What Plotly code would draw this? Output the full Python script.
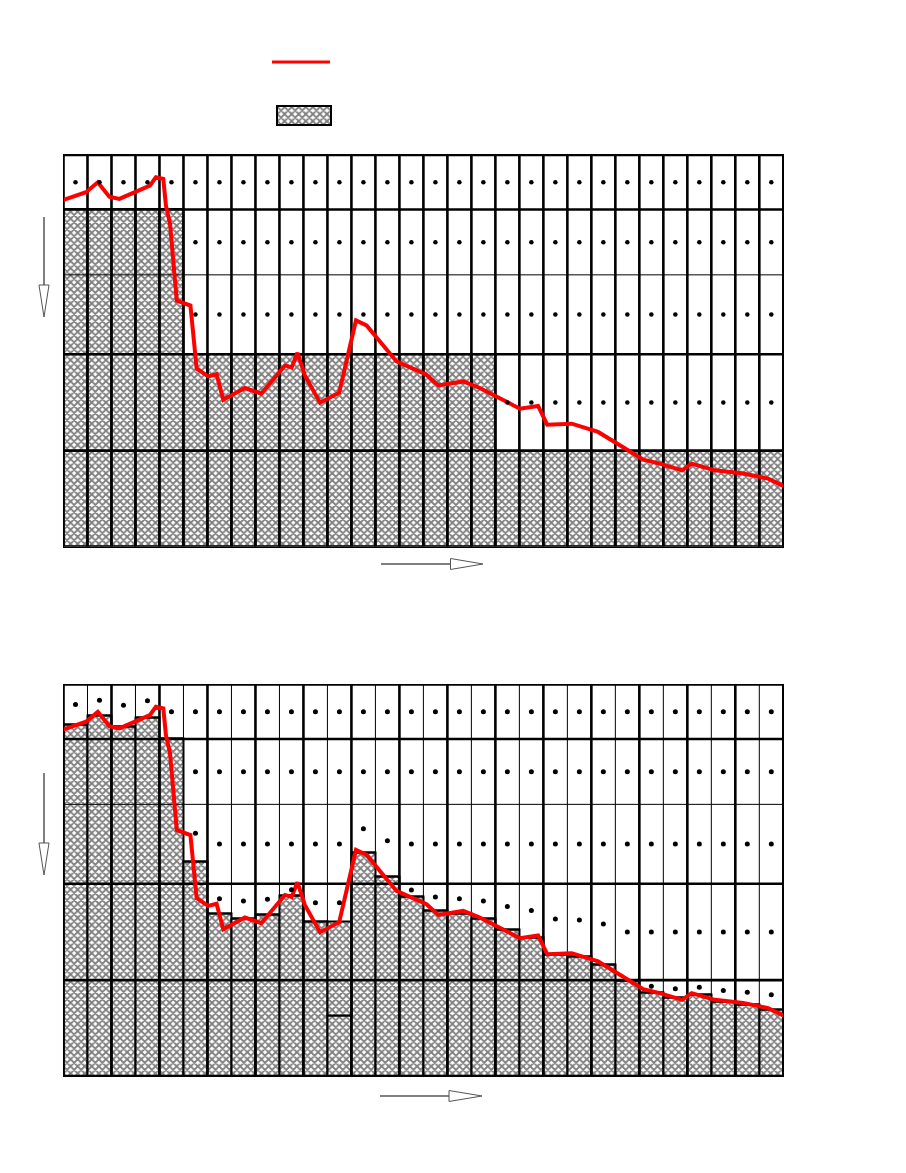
import plotly.graph_objects as go

W, H = 906, 1173

# ---------------- data ----------------
n_cols = 30
row_bounds = [0, 96, 192.5, 272, 337.5, 392]          # class boundaries (bottom -> top)
row_thick = [True, True, True, False, True, True]    # line weight of each boundary

# upper panel: class reached in each column (index into row_bounds)
top_levels = [4, 4, 4, 4, 4,
              2, 2, 2, 2, 2, 2, 2, 2, 2, 2, 2, 2, 2,
              1, 1, 1, 1, 1, 1, 1, 1, 1, 1, 1, 1]

# lower panel: value reached in each column
bottom_heights = [352, 360.7, 350.3, 359.3, 337.5, 214.3, 162.7, 157.7, 161.3, 180.3,
                  154.3, 154.3, 223.3, 199.3, 180, 166, 162.7, 157.7, 146.7, 138.7,
                  122, 120, 112, 96, 83.5, 78.5, 81.8, 75, 71.7, 66.7]
# inner split of a bar (0 = none)
bottom_split = [0]*11 + [60.3] + [0]*18

# continuous profile (red line)
line_x = [0, 0.94, 1.43, 1.91, 2.33, 3.6, 3.85, 4.16, 4.27, 4.44,
          4.72, 5.29, 5.55, 6.03, 6.38, 6.66, 7.56, 8.24, 9.23, 9.51,
          9.75, 10.06, 10.69, 11.49, 12.19, 12.63, 13.88, 15.13, 15.62, 16.66,
          17.35, 19.02, 19.78, 20.16, 21.18, 22.28, 23.19, 24.16, 24.85, 25.78,
          26.18, 27.15, 28.33, 29.37, 30]
line_y = [347, 354.7, 364.7, 350.3, 348, 361.3, 369.7, 368, 341.3, 323,
          246.3, 241.3, 178, 170.3, 172.5, 147, 158.7, 153, 181.3, 179.3,
          194, 171.3, 144, 154, 226.3, 221.3, 185.3, 172, 161.3, 165.3,
          158.7, 138, 140.7, 122, 123, 114.7, 101.3, 87, 83, 76.3,
          83, 76.3, 73, 68, 60.7]

# ---------------- helpers ----------------
def px(x):
    return x / W

def py(y):
    return 1 - y / H

centers = [i + 0.5 for i in range(n_cols)]
YMAX = row_bounds[-1]
THICK, THIN = 2.6, 1.0

pattern = dict(shape="x", size=5, solidity=0.6, fgcolor="black", bgcolor="white")

def grid_traces(xa, ya, vert_thick_fn):
    tx, ty, nx, ny = [], [], [], []
    for i in range(n_cols + 1):
        if vert_thick_fn(i):
            tx += [i, i, None]; ty += [0, YMAX, None]
        else:
            nx += [i, i, None]; ny += [0, YMAX, None]
    for b, t in zip(row_bounds, row_thick):
        if t:
            tx += [0, n_cols, None]; ty += [b, b, None]
        else:
            nx += [0, n_cols, None]; ny += [b, b, None]
    return [
        go.Scatter(x=nx, y=ny, mode="lines", line=dict(color="black", width=THIN),
                   xaxis=xa, yaxis=ya, hoverinfo="skip"),
        go.Scatter(x=tx, y=ty, mode="lines", line=dict(color="black", width=THICK),
                   xaxis=xa, yaxis=ya, hoverinfo="skip"),
    ]

fig = go.Figure()

# ---------------- upper panel ----------------
top_vals = [row_bounds[l] for l in top_levels]
fig.add_trace(go.Bar(x=centers, y=top_vals, width=1, xaxis="x", yaxis="y",
                     marker=dict(color="white", line=dict(color="black", width=2),
                                 pattern=pattern)))
for t in grid_traces("x", "y", lambda i: True):
    fig.add_trace(t)
fig.add_trace(go.Scatter(x=line_x, y=line_y, mode="lines", xaxis="x", yaxis="y",
                         line=dict(color="#ff0000", width=4)))
dx, dy = [], []
for c, lvl in zip(centers, top_levels):
    for r in range(lvl, len(row_bounds) - 1):
        dx.append(c); dy.append((row_bounds[r] + row_bounds[r + 1]) / 2)
fig.add_trace(go.Scatter(x=dx, y=dy, mode="markers", xaxis="x", yaxis="y",
                         marker=dict(color="black", size=4.5)))

# ---------------- lower panel ----------------
low = [s if s > 0 else h for h, s in zip(bottom_heights, bottom_split)]
up = [(h - s) if s > 0 else 0 for h, s in zip(bottom_heights, bottom_split)]
fig.add_trace(go.Bar(x=centers, y=low, width=1, xaxis="x2", yaxis="y2",
                     marker=dict(color="white", line=dict(color="black", width=2),
                                 pattern=pattern)))
fig.add_trace(go.Bar(x=centers, y=up, base=low, width=1, xaxis="x2", yaxis="y2",
                     marker=dict(color="white", line=dict(color="black", width=2),
                                 pattern=pattern)))
for t in grid_traces("x2", "y2", lambda i: i % 2 == 0):
    fig.add_trace(t)
fig.add_trace(go.Scatter(x=line_x, y=line_y, mode="lines", xaxis="x2", yaxis="y2",
                         line=dict(color="#ff0000", width=4)))
dx, dy = [], []
for c, h in zip(centers, bottom_heights):
    for r in range(len(row_bounds) - 1):
        lo, hi = row_bounds[r], row_bounds[r + 1]
        if h < hi - 2:
            dx.append(c); dy.append((max(h, lo) + hi) / 2)
fig.add_trace(go.Scatter(x=dx, y=dy, mode="markers", xaxis="x2", yaxis="y2",
                         marker=dict(color="black", size=5)))

# ---------------- legend swatch (hatched box) ----------------
fig.add_trace(go.Bar(x=[0], y=[1], width=1, xaxis="x3", yaxis="y3",
                     marker=dict(color="white", line=dict(width=0), pattern=pattern)))

axis_common = dict(showgrid=False, zeroline=False, showticklabels=False, ticks="",
                   showline=True, mirror=True, linecolor="black", linewidth=1.3)
xdom = [px(63.5), px(783.3)]
fig.update_layout(
    width=W, height=H, autosize=False,
    margin=dict(l=0, r=0, t=0, b=0),
    paper_bgcolor="white", plot_bgcolor="white",
    showlegend=False, barmode="overlay", bargap=0,
    xaxis=dict(domain=xdom, range=[0, n_cols], anchor="y", **axis_common),
    yaxis=dict(domain=[py(546.5), py(155)], range=[0, YMAX], anchor="x", **axis_common),
    xaxis2=dict(domain=xdom, range=[0, n_cols], anchor="y2", **axis_common),
    yaxis2=dict(domain=[py(1076), py(684.5)], range=[0, YMAX], anchor="x2", **axis_common),
    xaxis3=dict(domain=[px(277.5), px(330)], range=[-0.5, 0.5], anchor="y3",
                showgrid=False, zeroline=False, showticklabels=False, ticks="",
                showline=True, mirror=True, linecolor="black", linewidth=2.2),
    yaxis3=dict(domain=[py(124), py(107)], range=[0, 1], anchor="x3",
                showgrid=False, zeroline=False, showticklabels=False, ticks="",
                showline=True, mirror=True, linecolor="black", linewidth=2.2),
)

shapes = []
# legend red line
shapes.append(dict(type="line", xref="paper", yref="paper",
                   x0=px(272), x1=px(330), y0=py(62), y1=py(62),
                   line=dict(color="#ff0000", width=3)))

def v_arrow(x, y0, y1, y2):
    shapes.append(dict(type="line", xref="paper", yref="paper",
                       x0=px(x), x1=px(x), y0=py(y0), y1=py(y1),
                       line=dict(color="black", width=1)))
    path = "M %f %f L %f %f L %f %f Z" % (px(x - 5), py(y1), px(x + 5), py(y1), px(x), py(y2))
    shapes.append(dict(type="path", xref="paper", yref="paper", path=path,
                       line=dict(color="#555555", width=1)))

def h_arrow(y, x0, x1, x2):
    shapes.append(dict(type="line", xref="paper", yref="paper",
                       x0=px(x0), x1=px(x1), y0=py(y), y1=py(y),
                       line=dict(color="black", width=1)))
    path = "M %f %f L %f %f L %f %f Z" % (px(x1), py(y - 5.5), px(x1), py(y + 5.5), px(x2), py(y))
    shapes.append(dict(type="path", xref="paper", yref="paper", path=path,
                       line=dict(color="#555555", width=1)))

v_arrow(44, 217, 285, 317)
h_arrow(564, 381, 450.5, 483)
v_arrow(44, 773, 843, 875)
h_arrow(1096, 380, 449, 482)
fig.update_layout(shapes=shapes)

fig.write_html("out.html", config={"displayModeBar": False},
               post_script="document.body.style.margin='0';document.body.style.overflow='hidden';")
